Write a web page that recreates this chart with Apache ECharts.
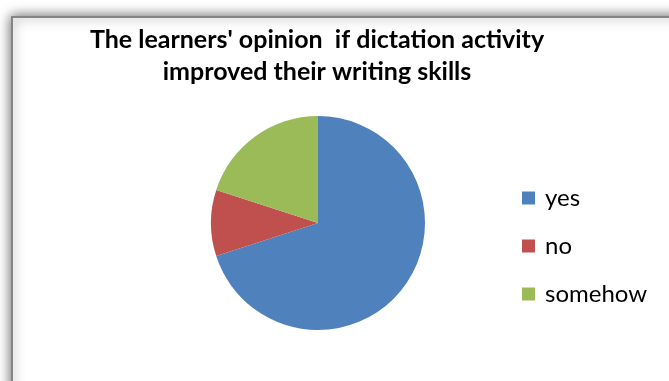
<!DOCTYPE html>
<html>
<head>
<meta charset="utf-8">
<script src="https://cdn.jsdelivr.net/npm/echarts@6/dist/echarts.min.js"></script>
<style>
  html, body { margin: 0; padding: 0; background: #ffffff; }
  #chart { width: 669px; height: 381px; }
</style>
</head>
<body>
<div id="chart"></div>
<script>
// Survey answers (percent of learners)
const categories = ['yes', 'no', 'somehow'];
const shares = [70, 10, 20];
const sliceColors = ['#4F81BD', '#C0504D', '#9BBB59'];
const titleLines = ["The learners' opinion  if dictation activity", 'improved their writing skills'];

const chart = echarts.init(document.getElementById('chart'), null, { renderer: 'canvas' });

chart.setOption({
  animation: false,
  backgroundColor: '#ffffff',
  graphic: [
    {
      type: 'rect',
      z: -10,
      silent: true,
      shape: { x: 12, y: 17, width: 720, height: 420 },
      style: {
        fill: '#ffffff',
        stroke: '#858585',
        lineWidth: 2,
        shadowBlur: 12,
        shadowColor: 'rgba(0,0,0,0.6)'
      }
    }
  ],
  title: {
    text: titleLines.join('\n'),
    left: 317,
    top: 24,
    textAlign: 'center',
    padding: 0,
    textStyle: {
      fontFamily: 'Lato',
      fontWeight: 'bold',
      fontSize: 25,
      lineHeight: 32,
      color: '#000000'
    }
  },
  legend: {
    orient: 'vertical',
    left: 522,
    top: 186,
    padding: 0,
    itemWidth: 13,
    itemHeight: 13,
    itemGap: 24,
    icon: 'rect',
    selectedMode: false,
    data: categories,
    textStyle: {
      fontFamily: 'Lato',
      fontSize: 24,
      lineHeight: 24,
      color: '#000000',
      padding: [0, 0, 0, 5]
    }
  },
  series: [
    {
      type: 'pie',
      center: [318, 223],
      radius: 107,
      startAngle: 90,
      clockwise: true,
      label: { show: false },
      labelLine: { show: false },
      emphasis: { disabled: true },
      itemStyle: { borderWidth: 0 },
      data: categories.map((name, i) => ({
        name: name,
        value: shares[i],
        itemStyle: { color: sliceColors[i] }
      }))
    }
  ]
});
</script>
</body>
</html>
